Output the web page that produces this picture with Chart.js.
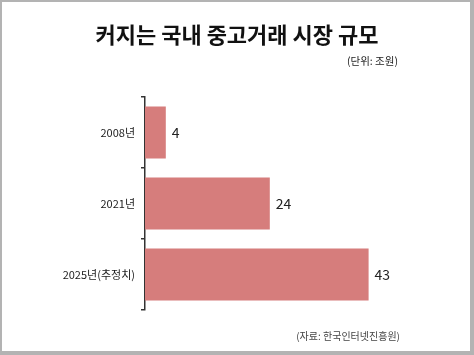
<!DOCTYPE html>
<html><head><meta charset="utf-8">
<script src="https://cdn.jsdelivr.net/npm/chart.js@4/dist/chart.umd.min.js"></script>
<style>
html,body{margin:0;padding:0;background:#fff;}
#wrap{position:relative;width:474px;height:355px;overflow:hidden;font-family:"Noto Sans CJK KR","Noto Sans",sans-serif;}
#c{position:absolute;left:0;top:0;}
.t{position:absolute;white-space:nowrap;line-height:1;}
#title{left:0;width:474px;text-align:center;top:22px;font-size:22px;font-weight:bold;color:#111;}
#unit{right:76px;top:55.5px;font-size:10.5px;color:#222;}
#src{right:74px;top:330.5px;font-size:10px;color:#444;}
#frame{position:absolute;left:0;top:0;width:474px;height:355px;box-sizing:border-box;border-style:solid;border-color:#b3b3b3;border-width:2px 4px 4px 2px;pointer-events:none;}
</style></head>
<body>
<div id="wrap">
<canvas id="c" width="474" height="355"></canvas>
<div class="t" id="title">커지는 국내 중고거래 시장 규모</div>
<div class="t" id="unit">(단위: 조원)</div>
<div class="t" id="src">(자료: 한국인터넷진흥원)</div>
<div id="frame"></div>
</div>
<script>
const categories = ["2008년", "2021년", "2025년(추정치)"];
const values = [4, 24, 43];

const valueLabels = {
  id: 'valueLabels',
  afterDatasetsDraw(chart) {
    const ctx = chart.ctx;
    const meta = chart.getDatasetMeta(0);
    ctx.save();
    ctx.font = '14px "Noto Sans CJK KR", sans-serif';
    ctx.fillStyle = '#222';
    ctx.textAlign = 'left';
    ctx.textBaseline = 'middle';
    meta.data.forEach((bar, i) => {
      ctx.fillText(String(values[i]), bar.x + 6, bar.y);
    });
    ctx.restore();
  }
};

new Chart(document.getElementById('c'), {
  type: 'bar',
  data: {
    labels: categories,
    datasets: [{
      data: values,
      backgroundColor: '#d67d7c',
      borderWidth: 0,
      barPercentage: 0.73,
      categoryPercentage: 1.0
    }]
  },
  options: {
    indexAxis: 'y',
    responsive: false,
    animation: false,
    devicePixelRatio: 1,
    layout: { padding: { left: 0, top: 97, right: 69, bottom: 45 } },
    plugins: { legend: { display: false }, tooltip: { enabled: false } },
    scales: {
      x: { display: false, min: 0, max: 50 },
      y: {
        afterFit(s) { s.width = 145; },
        border: { display: true, color: '#333', width: 1.5 },
        grid: { offset: true, drawOnChartArea: false, drawTicks: true, tickLength: 4, color: '#333', lineWidth: 1.5 },
        ticks: { color: '#1a1a1a', padding: 6, font: { family: '"Noto Sans CJK KR", sans-serif', size: 11 } }
      }
    }
  },
  plugins: [valueLabels]
});
</script>
</body></html>
